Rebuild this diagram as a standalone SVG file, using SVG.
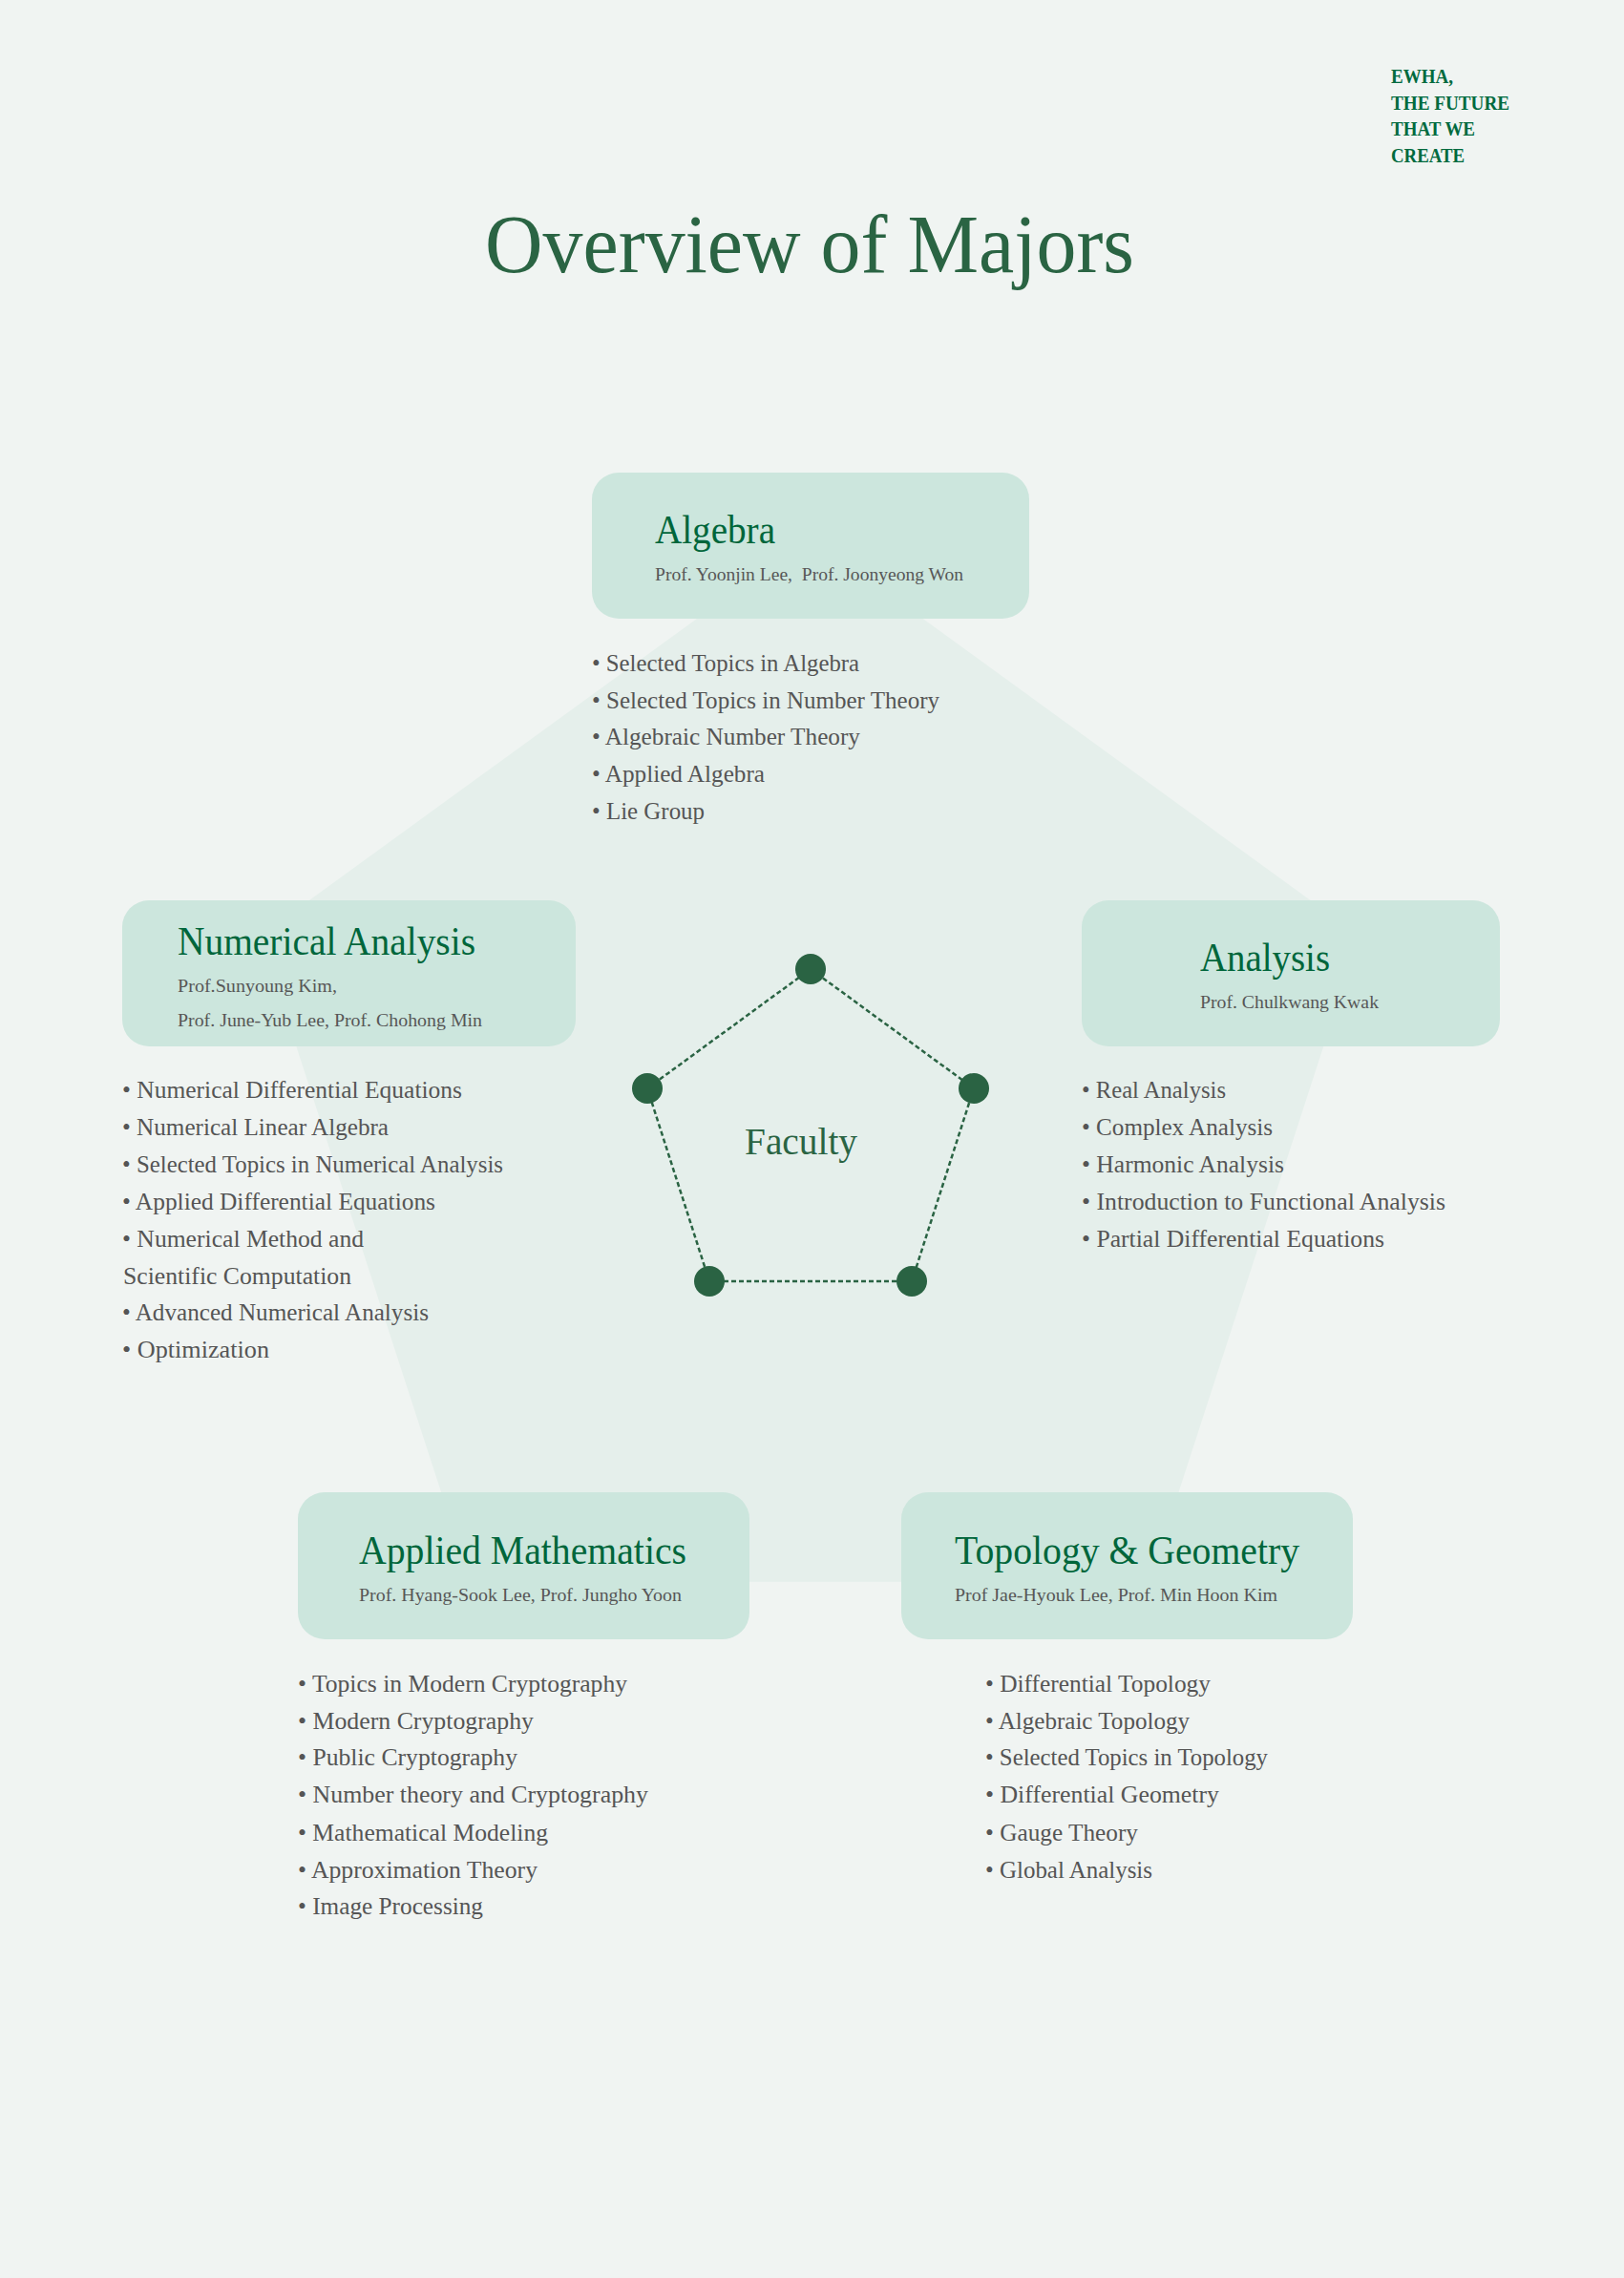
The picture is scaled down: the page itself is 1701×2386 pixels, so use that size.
<svg xmlns="http://www.w3.org/2000/svg" width="1701" height="2386" viewBox="0 0 1701 2386">
<style>
.bg{fill:#f0f4f2}
.pent{fill:#e5efeb}
.box{fill:#cce6dd}
.ttl{font-family:"Liberation Serif",serif;fill:#2a6443}
.head{font-family:"Liberation Serif",serif;font-size:42px;fill:#00663b}
.prof{font-family:"Liberation Serif",serif;font-size:19px;fill:#575757}
.item{font-family:"Liberation Serif",serif;font-size:25px;fill:#555555}
.ewha{font-family:"Liberation Serif",serif;font-size:21px;font-weight:bold;fill:#006a3e}
.dot{fill:#2a6343}
.dash{stroke:#2a6343;stroke-width:2.5;stroke-dasharray:5 3;fill:none}
</style>
<rect class="bg" x="0" y="0" width="1701" height="2386"/>
<g id="background-pentagon">
<polygon class="pent" points="848.3,562 1423.9,980.2 1204,1656.8 492.6,1656.8 272.7,980.2"/>
</g>
<g id="header">
<text class="ewha" x="1457" y="87" textLength="65" lengthAdjust="spacingAndGlyphs">EWHA,</text>
<text class="ewha" x="1457" y="115" textLength="124" lengthAdjust="spacingAndGlyphs">THE FUTURE</text>
<text class="ewha" x="1457" y="142" textLength="88" lengthAdjust="spacingAndGlyphs">THAT WE</text>
<text class="ewha" x="1457" y="170" textLength="77" lengthAdjust="spacingAndGlyphs">CREATE</text>
<text class="ttl" x="508" y="285" font-size="86" textLength="680" lengthAdjust="spacingAndGlyphs">Overview of Majors</text>
</g>
<g id="connectors">
<line class="dash" x1="849" y1="1015" x2="1020" y2="1140"/>
<line class="dash" x1="1020" y1="1140" x2="955" y2="1342"/>
<line class="dash" x1="955" y1="1342" x2="743" y2="1342"/>
<line class="dash" x1="743" y1="1342" x2="678" y2="1140"/>
<line class="dash" x1="678" y1="1140" x2="849" y2="1015"/>
</g>
<g id="faculty">
<circle class="dot" cx="849" cy="1015" r="16"/>
<circle class="dot" cx="1020" cy="1140" r="16"/>
<circle class="dot" cx="955" cy="1342" r="16"/>
<circle class="dot" cx="743" cy="1342" r="16"/>
<circle class="dot" cx="678" cy="1140" r="16"/>
<text class="ttl" x="780" y="1209" font-size="40" textLength="118" lengthAdjust="spacingAndGlyphs">Faculty</text>
</g>
<g id="algebra">
<rect class="box" x="620" y="495" width="458" height="153" rx="28"/>
<text class="head" x="686" y="569" textLength="126" lengthAdjust="spacingAndGlyphs">Algebra</text>
<text class="prof" x="686" y="608" textLength="323" lengthAdjust="spacingAndGlyphs" xml:space="preserve">Prof. Yoonjin Lee,  Prof. Joonyeong Won</text>
<text class="item" x="620" y="703" textLength="280" lengthAdjust="spacingAndGlyphs">• Selected Topics in Algebra</text>
<text class="item" x="620" y="742" textLength="364" lengthAdjust="spacingAndGlyphs">• Selected Topics in Number Theory</text>
<text class="item" x="620" y="780" textLength="281" lengthAdjust="spacingAndGlyphs">• Algebraic Number Theory</text>
<text class="item" x="620" y="819" textLength="181" lengthAdjust="spacingAndGlyphs">• Applied Algebra</text>
<text class="item" x="620" y="858" textLength="118" lengthAdjust="spacingAndGlyphs">• Lie Group</text>
</g>
<g id="numerical-analysis">
<rect class="box" x="128" y="943" width="475" height="153" rx="28"/>
<text class="head" x="186" y="1000" textLength="312" lengthAdjust="spacingAndGlyphs">Numerical Analysis</text>
<text class="prof" x="186" y="1039" textLength="167" lengthAdjust="spacingAndGlyphs">Prof.Sunyoung Kim,</text>
<text class="prof" x="186" y="1075" textLength="319" lengthAdjust="spacingAndGlyphs">Prof. June-Yub Lee, Prof. Chohong Min</text>
<text class="item" x="128" y="1150" textLength="356" lengthAdjust="spacingAndGlyphs">• Numerical Differential Equations</text>
<text class="item" x="128" y="1189" textLength="279" lengthAdjust="spacingAndGlyphs">• Numerical Linear Algebra</text>
<text class="item" x="128" y="1228" textLength="399" lengthAdjust="spacingAndGlyphs">• Selected Topics in Numerical Analysis</text>
<text class="item" x="128" y="1267" textLength="328" lengthAdjust="spacingAndGlyphs">• Applied Differential Equations</text>
<text class="item" x="128" y="1306" textLength="253" lengthAdjust="spacingAndGlyphs">• Numerical Method and</text>
<text class="item" x="129" y="1345" textLength="239" lengthAdjust="spacingAndGlyphs">Scientific Computation</text>
<text class="item" x="128" y="1383" textLength="321" lengthAdjust="spacingAndGlyphs">• Advanced Numerical Analysis</text>
<text class="item" x="128" y="1422" textLength="154" lengthAdjust="spacingAndGlyphs">• Optimization</text>
</g>
<g id="analysis">
<rect class="box" x="1133" y="943" width="438" height="153" rx="28"/>
<text class="head" x="1257" y="1017" textLength="136" lengthAdjust="spacingAndGlyphs">Analysis</text>
<text class="prof" x="1257" y="1056" textLength="187" lengthAdjust="spacingAndGlyphs">Prof. Chulkwang Kwak</text>
<text class="item" x="1133" y="1150" textLength="151" lengthAdjust="spacingAndGlyphs">• Real Analysis</text>
<text class="item" x="1133" y="1189" textLength="200" lengthAdjust="spacingAndGlyphs">• Complex Analysis</text>
<text class="item" x="1133" y="1228" textLength="212" lengthAdjust="spacingAndGlyphs">• Harmonic Analysis</text>
<text class="item" x="1133" y="1267" textLength="381" lengthAdjust="spacingAndGlyphs">• Introduction to Functional Analysis</text>
<text class="item" x="1133" y="1306" textLength="317" lengthAdjust="spacingAndGlyphs">• Partial Differential Equations</text>
</g>
<g id="applied-mathematics">
<rect class="box" x="312" y="1563" width="473" height="154" rx="28"/>
<text class="head" x="376" y="1638" textLength="343" lengthAdjust="spacingAndGlyphs">Applied Mathematics</text>
<text class="prof" x="376" y="1677" textLength="338" lengthAdjust="spacingAndGlyphs">Prof. Hyang-Sook Lee, Prof. Jungho Yoon</text>
<text class="item" x="312" y="1772" textLength="345" lengthAdjust="spacingAndGlyphs">• Topics in Modern Cryptography</text>
<text class="item" x="312" y="1811" textLength="247" lengthAdjust="spacingAndGlyphs">• Modern Cryptography</text>
<text class="item" x="312" y="1849" textLength="230" lengthAdjust="spacingAndGlyphs">• Public Cryptography</text>
<text class="item" x="312" y="1888" textLength="367" lengthAdjust="spacingAndGlyphs">• Number theory and Cryptography</text>
<text class="item" x="312" y="1928" textLength="262" lengthAdjust="spacingAndGlyphs">• Mathematical Modeling</text>
<text class="item" x="312" y="1967" textLength="251" lengthAdjust="spacingAndGlyphs">• Approximation Theory</text>
<text class="item" x="312" y="2005" textLength="194" lengthAdjust="spacingAndGlyphs">• Image Processing</text>
</g>
<g id="topology-geometry">
<rect class="box" x="944" y="1563" width="473" height="154" rx="28"/>
<text class="head" x="1000" y="1638" textLength="361" lengthAdjust="spacingAndGlyphs">Topology &amp; Geometry</text>
<text class="prof" x="1000" y="1677" textLength="338" lengthAdjust="spacingAndGlyphs">Prof Jae-Hyouk Lee, Prof. Min Hoon Kim</text>
<text class="item" x="1032" y="1772" textLength="236" lengthAdjust="spacingAndGlyphs">• Differential Topology</text>
<text class="item" x="1032" y="1811" textLength="214" lengthAdjust="spacingAndGlyphs">• Algebraic Topology</text>
<text class="item" x="1032" y="1849" textLength="296" lengthAdjust="spacingAndGlyphs">• Selected Topics in Topology</text>
<text class="item" x="1032" y="1888" textLength="245" lengthAdjust="spacingAndGlyphs">• Differential Geometry</text>
<text class="item" x="1032" y="1928" textLength="160" lengthAdjust="spacingAndGlyphs">• Gauge Theory</text>
<text class="item" x="1032" y="1967" textLength="175" lengthAdjust="spacingAndGlyphs">• Global Analysis</text>
</g>
</svg>
